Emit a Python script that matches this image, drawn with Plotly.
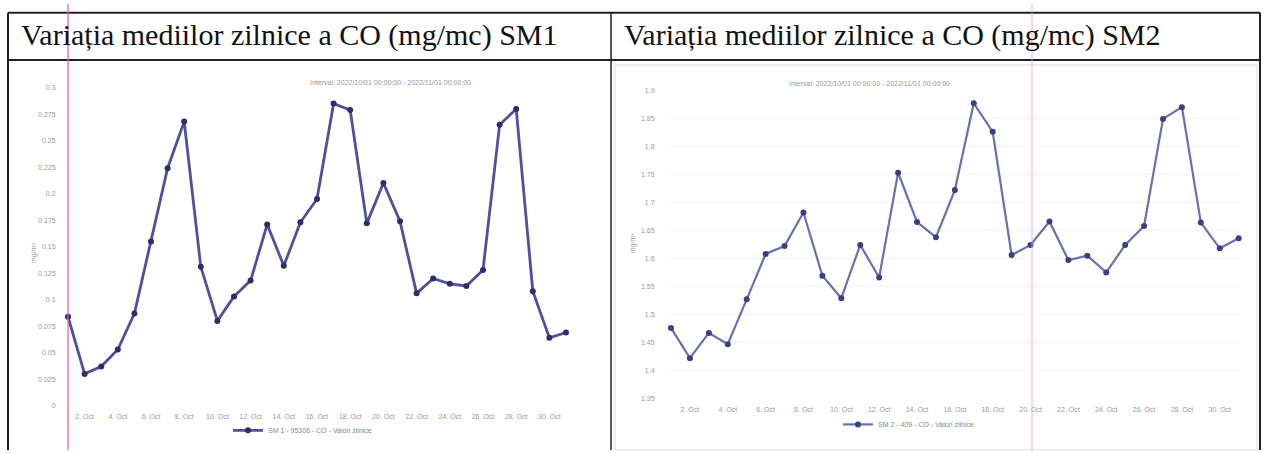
import pandas as pd
import plotly.graph_objects as go

W, H = 1263, 453

# Days of October 2022
days = pd.date_range("2022-10-01", "2022-10-31", freq="D")

# Daily CO means (mg/m3)
sm1_co = [0.084, 0.030, 0.037, 0.053, 0.087, 0.155, 0.224, 0.268, 0.131, 0.080,
          0.103, 0.118, 0.171, 0.132, 0.173, 0.195, 0.285, 0.279, 0.172, 0.210,
          0.174, 0.106, 0.120, 0.115, 0.113, 0.128, 0.265, 0.280, 0.108, 0.064,
          0.069]
sm2_co = [1.476, 1.422, 1.467, 1.447, 1.527, 1.608, 1.622, 1.682, 1.569, 1.529,
          1.624, 1.566, 1.753, 1.665, 1.638, 1.722, 1.877, 1.826, 1.606, 1.624,
          1.666, 1.597, 1.605, 1.575, 1.624, 1.658, 1.849, 1.870, 1.664, 1.618,
          1.636]

titles = ["Variația mediilor zilnice a CO (mg/mc) SM1",
          "Variația mediilor zilnice a CO (mg/mc) SM2"]
legend_names = ["SM 1 - 95306 - CO - Valori zilnice",
                "SM 2 - 409 - CO - Valori zilnice"]
interval_txt = "Interval: 2022/10/01 00:00:00 - 2022/11/01 00:00:00"


def px(x):
    return x / W


def py(y):
    return (H - y) / H


fig = go.Figure()

fig.add_trace(go.Scatter(
    x=days, y=sm1_co, name=legend_names[0], mode="lines+markers",
    line=dict(color="#4f4f9c", width=2.8),
    marker=dict(symbol="circle", size=6, color="#2e2e66"),
    cliponaxis=False, xaxis="x", yaxis="y", legend="legend",
    showlegend=True))

fig.add_trace(go.Scatter(
    x=days, y=sm2_co, name=legend_names[1], mode="lines+markers",
    line=dict(color="#6770b0", width=2.2),
    marker=dict(symbol="circle", size=6, color="#3b4180"),
    cliponaxis=False, xaxis="x2", yaxis="y2", legend="legend2",
    showlegend=True))

tickfont = dict(family="Liberation Sans", size=7, color="#999999")
xcommon = dict(type="date", range=[days[0], days[-1]], tick0="2022-10-02",
               dtick=2 * 86400000, tickformat="%-d. %b", showgrid=False,
               zeroline=False, showline=False, ticks="outside", ticklen=4,
               tickcolor="rgba(0,0,0,0)", tickfont=tickfont)
legfont = dict(family="Liberation Sans", size=7, color="#888888")

fig.update_layout(
    width=W, height=H,
    margin=dict(l=0, r=0, t=0, b=0),
    paper_bgcolor="white", plot_bgcolor="rgba(0,0,0,0)",
    showlegend=True,
    xaxis=dict(domain=[px(68), px(566)], anchor="y", **xcommon),
    yaxis=dict(domain=[py(408), py(85)], range=[0, 0.3], dtick=0.025,
               anchor="x", showgrid=False, zeroline=False,
               ticks="outside", ticklen=10, tickcolor="rgba(0,0,0,0)",
               tickfont=tickfont),
    xaxis2=dict(domain=[px(671), px(1238.7)], anchor="y2", **xcommon),
    yaxis2=dict(domain=[py(400.7), py(87.7)], range=[1.35, 1.9], dtick=0.05,
                anchor="x2", showgrid=True, gridcolor="#f3f3f3", zeroline=False,
                ticks="outside", ticklen=14, tickcolor="rgba(0,0,0,0)",
                tickfont=tickfont),
    legend=dict(orientation="h", x=px(228), y=py(433), xanchor="left",
                yanchor="middle", font=legfont, bgcolor="rgba(0,0,0,0)",
                visible=True),
    legend2=dict(orientation="h", x=px(838), y=py(427), xanchor="left",
                 yanchor="middle", font=legfont, bgcolor="rgba(0,0,0,0)",
                 visible=True),
)

# Table header text
for i, t in enumerate(titles):
    fig.add_annotation(text=t, x=px([19, 622][i]), y=py(31), xref="paper",
                       yref="paper", xanchor="left", yanchor="middle",
                       showarrow=False,
                       font=dict(family="Liberation Serif", size=30,
                                 color="#111111"))

# Chart subtitles and axis titles
for cx, cy in [(308, 74), (952, 75)]:
    fig.add_annotation(text=interval_txt, x=px(cx), y=py(cy), xref="paper",
                       yref="paper", showarrow=False,
                       font=dict(family="Liberation Sans", size=7,
                                 color="#999999"))
for cx, cy in [(28, 253), (633, 243)]:
    fig.add_annotation(text="mg/m³", x=px(cx), y=py(cy), xref="paper",
                       yref="paper", showarrow=False, textangle=-90,
                       font=dict(family="Liberation Sans", size=7,
                                 color="#999999"))

# Table borders
lines = [
    (8, 9, 1260, 9, 2), (8, 57, 1260, 57, 2),
    (8, 9, 8, 453, 2), (611, 9, 611, 453, 1.5), (1260, 9, 1260, 453, 2),
]
for x0, y0, x1, y1, w in lines:
    fig.add_shape(type="line", xref="paper", yref="paper",
                  x0=px(x0), y0=py(y0), x1=px(x1), y1=py(y1),
                  line=dict(color="#222222", width=w))

# faint frame of the pasted chart picture on the right
fig.add_shape(type="rect", xref="paper", yref="paper",
              x0=px(615), y0=py(62), x1=px(1257), y1=py(453),
              line=dict(color="#dddddd", width=1))

# scanner marks (pink vertical lines)
fig.add_shape(type="line", xref="paper", yref="paper", x0=px(68), x1=px(68),
              y0=0, y1=1, line=dict(color="rgba(225,90,200,0.85)", width=1.5))
fig.add_shape(type="line", xref="paper", yref="paper", x0=px(1032),
              x1=px(1032), y0=0, y1=1,
              line=dict(color="rgba(225,160,225,0.7)", width=1.2))

fig.write_html("out.html", config={"displayModeBar": False},
               post_script="document.body.style.margin='0';")
